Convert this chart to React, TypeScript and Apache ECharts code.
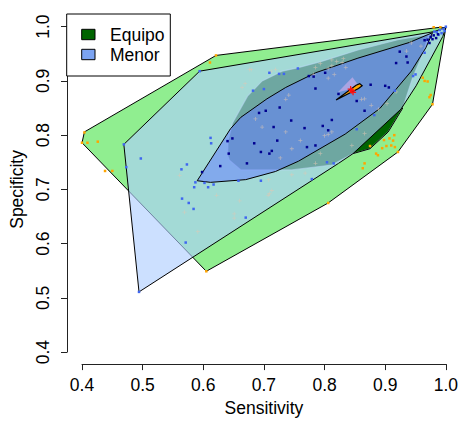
import React, { useEffect, useRef } from "react";
import * as echarts from "echarts";

const FONT = "'Liberation Sans', Arial, Helvetica, sans-serif";

const xTickValues = [0.4, 0.5, 0.6, 0.7, 0.8, 0.9, 1.0];
const yTickValues = [0.4, 0.5, 0.6, 0.7, 0.8, 0.9, 1.0];
const legendNames = ["Equipo", "Menor"];
const legendColors = ["#006400", "#7BA3F2"];

// Equipo: outer hull (light green) and inner region (dark green)
const equipoOuterHull: number[][] = [
  [0.4, 0.786], [0.404, 0.806], [0.621, 0.947], [0.991, 0.999], [1.0, 0.998],
  [0.978, 0.857], [0.921, 0.769], [0.806, 0.675], [0.605, 0.549],
];
const equipoInnerHull: number[][] = [
  [0.640, 0.763], [0.641, 0.79], [0.648, 0.822], [0.673, 0.872], [0.697, 0.9],
  [0.730, 0.918], [0.755, 0.924], [0.795, 0.936], [0.855, 0.957], [0.921, 0.976],
  [0.972, 0.986], [0.962, 0.95], [0.945, 0.905], [0.929, 0.850], [0.905, 0.806],
  [0.875, 0.775], [0.847, 0.766], [0.812, 0.745], [0.746, 0.736], [0.662, 0.736],
  [0.643, 0.754],
];
const equipoInnerEdge: number[][] = [
  [0.847, 0.766], [0.875, 0.775], [0.905, 0.806], [0.929, 0.850],
];

// Menor: outer hull (light blue) and inner hull (cornflower)
const menorOuterHull: number[][] = [
  [0.469, 0.783], [0.594, 0.918], [0.981, 0.991], [1.0, 0.999], [0.995, 0.982],
  [0.951, 0.891], [0.926, 0.848], [0.847, 0.766], [0.823, 0.748], [0.494, 0.511],
];
const menorInnerHull: number[][] = [
  [0.590, 0.716], [0.612, 0.713], [0.670, 0.718], [0.719, 0.733], [0.757, 0.752],
  [0.834, 0.802], [0.891, 0.849], [0.943, 0.918], [0.967, 0.961], [0.978, 0.989],
  [0.940, 0.971], [0.855, 0.942], [0.785, 0.915], [0.736, 0.888], [0.705, 0.867],
  [0.662, 0.833], [0.645, 0.812],
];

// centre estimate
const centreWedge: number[][] = [
  [0.819, 0.865], [0.852, 0.892], [0.858, 0.895], [0.862, 0.891], [0.856, 0.886],
];
const centreHalo: number[][] = [
  [0.822, 0.879], [0.846, 0.907], [0.858, 0.889],
];
const centrePoint: number[][] = [[0.845, 0.882], [0.847, 0.879], [0.843, 0.885]];

const equipoPoints: number[][] = [
  [0.400, 0.786], [0.404, 0.805], [0.409, 0.786], [0.426, 0.788], [0.438, 0.734],
  [0.450, 0.734], [0.621, 0.947], [0.611, 0.934], [0.605, 0.549], [0.806, 0.675],
  [0.978, 0.857], [0.973, 0.870], [0.975, 0.874], [0.965, 0.900], [0.970, 0.899],
  [0.962, 0.906], [0.921, 0.769], [0.910, 0.781], [0.913, 0.790], [0.907, 0.794],
  [0.898, 0.791], [0.902, 0.780], [0.916, 0.778], [0.888, 0.763], [0.885, 0.766],
  [0.866, 0.748], [0.863, 0.739], [0.875, 0.780], [0.915, 0.800], [0.991, 0.999],
  [0.980, 0.999], [0.895, 0.776],
];

const menorPoints: number[][] = [
  [0.469, 0.783], [0.473, 0.741], [0.497, 0.757], [0.494, 0.511], [0.612, 0.795],
  [0.613, 0.785], [0.594, 0.918], [0.564, 0.737], [0.573, 0.746], [0.565, 0.683],
  [0.576, 0.675], [0.584, 0.664], [0.571, 0.602], [0.585, 0.704], [0.587, 0.713],
  [0.602, 0.712], [0.608, 0.704], [0.617, 0.709], [0.670, 0.648], [0.658, 0.716],
  [0.695, 0.716], [0.779, 0.719], [0.804, 0.750], [0.815, 0.748], [0.700, 0.885],
  [0.709, 0.915], [0.725, 0.913], [0.733, 0.913], [0.756, 0.923], [0.682, 0.882],
  [0.853, 0.811], [0.882, 0.837], [0.916, 0.882], [0.946, 0.909], [0.950, 0.912],
  [0.965, 0.952], [0.981, 0.991], [0.985, 0.990], [0.990, 0.994], [1.0, 1.0],
  [0.993, 0.988], [0.996, 0.996], [0.988, 0.985], [0.998, 0.992],
];

const menorCorePoints: number[][] = [
  [0.692, 0.841], [0.703, 0.845], [0.745, 0.827], [0.716, 0.815], [0.767, 0.813],
  [0.722, 0.790], [0.684, 0.785], [0.640, 0.789], [0.648, 0.794], [0.642, 0.766],
  [0.628, 0.743], [0.672, 0.748], [0.695, 0.769], [0.709, 0.766], [0.713, 0.771],
  [0.771, 0.778], [0.785, 0.781], [0.785, 0.886], [0.774, 0.909], [0.782, 0.908],
  [0.801, 0.915], [0.797, 0.817], [0.806, 0.809], [0.812, 0.828], [0.726, 0.851],
  [0.924, 0.954], [0.918, 0.933], [0.935, 0.945], [0.937, 0.934], [0.906, 0.888],
  [0.900, 0.891], [0.876, 0.893], [0.866, 0.845], [0.853, 0.863], [0.823, 0.876],
  [0.970, 0.976], [0.975, 0.981], [0.978, 0.977], [0.965, 0.975], [0.973, 0.970],
  [0.980, 0.984], [0.984, 0.979], [0.987, 0.986], [0.598, 0.732],
];

const pooledPoints: number[][] = [
  [0.676, 0.921], [0.719, 0.921], [0.712, 0.918], [0.812, 0.939], [0.820, 0.936],
  [0.829, 0.934], [0.831, 0.941], [0.812, 0.928], [0.806, 0.923], [0.835, 0.925],
  [0.793, 0.932], [0.785, 0.925], [0.782, 0.912], [0.806, 0.905], [0.816, 0.912],
  [0.736, 0.866], [0.741, 0.874], [0.686, 0.830], [0.697, 0.815], [0.736, 0.806],
  [0.746, 0.775], [0.812, 0.806], [0.806, 0.801], [0.800, 0.799], [0.861, 0.866],
  [0.866, 0.867], [0.877, 0.855], [0.845, 0.781], [0.866, 0.803], [0.918, 0.880],
  [0.935, 0.955], [0.943, 0.970], [0.959, 0.964], [0.785, 0.748], [0.768, 0.730],
  [0.793, 0.766], [0.746, 0.727], [0.708, 0.718], [0.713, 0.698], [0.709, 0.692],
  [0.707, 0.689], [0.561, 0.726], [0.569, 0.658], [0.591, 0.622], [0.622, 0.689],
  [0.660, 0.679], [0.651, 0.655], [0.651, 0.647], [0.679, 0.921], [0.664, 0.888],
  [0.669, 0.895], [0.903, 0.858], [0.889, 0.848], [0.760, 0.790], [0.727, 0.758],
];

function polygonSeries(name: string, pts: number[][], style: any, z: number) {
  return {
    type: "custom",
    name,
    coordinateSystem: "cartesian2d",
    data: pts,
    encode: { x: 0, y: 1 },
    clip: false,
    silent: true,
    z,
    renderItem: (params: any, api: any) => {
      if (params.dataIndex !== 0) return { type: "group", children: [] };
      return {
        type: "polygon",
        shape: { points: pts.map((p) => api.coord(p)) },
        style,
      };
    },
  };
}

function polylineSeries(name: string, pts: number[][], style: any, z: number) {
  return {
    type: "custom",
    name,
    coordinateSystem: "cartesian2d",
    data: pts,
    encode: { x: 0, y: 1 },
    clip: false,
    silent: true,
    z,
    renderItem: (params: any, api: any) => {
      if (params.dataIndex !== 0) return { type: "group", children: [] };
      return {
        type: "polyline",
        shape: { points: pts.map((p) => api.coord(p)) },
        style,
      };
    },
  };
}

function scatterSeries(name: string, pts: number[][], symbol: string, size: number, color: string, z: number) {
  return {
    type: "scatter",
    name,
    data: pts,
    symbol,
    symbolSize: size,
    itemStyle: { color, opacity: 1 },
    silent: true,
    z,
  };
}

const PLUS = "path://M2,0H3V2H5V3H3V5H2V3H0V2H2Z";
const STAR = "path://M2,0H3V2H5V3H3V5H2V3H0V2H2Z";

export default function App() {
  const ref = useRef<HTMLDivElement>(null);
  useEffect(() => {
    if (!ref.current) return;
    const chart = echarts.init(ref.current, undefined, { renderer: "svg" });
    const axisCommon = {
      type: "value",
      min: 0.4,
      max: 1.0,
      interval: 0.1,
      splitLine: { show: false },
      axisLine: { show: true, lineStyle: { color: "#222", width: 1 } },
      axisTick: { show: true, length: 6, lineStyle: { color: "#222", width: 1 } },
      nameLocation: "middle",
      nameTextStyle: { fontSize: 17.5, color: "#000", fontFamily: FONT },
    };
    const legendBox = { x: 66.7, y: 14, w: 103.6, h: 62 };
    const legendGraphics: any[] = [
      {
        type: "rect",
        shape: { x: legendBox.x, y: legendBox.y, width: legendBox.w, height: legendBox.h },
        style: { fill: "#fff", stroke: "#000", lineWidth: 1 },
        z: 100,
      },
    ];
    legendNames.forEach((name, i) => {
      const cy = 34.5 + i * 20;
      legendGraphics.push({
        type: "rect",
        shape: { x: 81.7, y: cy - 5.2, width: 13.3, height: 10.4 },
        style: { fill: legendColors[i], stroke: "#000", lineWidth: 1 },
        z: 101,
      });
      legendGraphics.push({
        type: "text",
        x: 110,
        y: cy,
        style: {
          text: name, fill: "#000", font: `17.5px ${FONT}`,
          textAlign: "left", textVerticalAlign: "middle",
        },
        z: 101,
      });
    });
    chart.setOption({
      animation: false,
      backgroundColor: "#fff",
      grid: { left: 81.7, right: 12.7, top: 26.7, bottom: 66 },
      xAxis: {
        ...axisCommon,
        offset: 12,
        name: "Sensitivity",
        nameGap: 34,
        axisLabel: {
          fontSize: 17.5, color: "#000", fontFamily: FONT, margin: 12,
          formatter: (v: number) => (xTickValues.find((t) => Math.abs(t - v) < 1e-6) ?? v).toFixed(1),
        },
      },
      yAxis: {
        ...axisCommon,
        offset: 15,
        name: "Specificity",
        nameGap: 41,
        axisLabel: {
          fontSize: 17.5, color: "#000", fontFamily: FONT, margin: 15, rotate: 90,
          formatter: (v: number) => (yTickValues.find((t) => Math.abs(t - v) < 1e-6) ?? v).toFixed(1),
        },
      },
      graphic: legendGraphics,
      series: [
        polygonSeries("Equipo", equipoOuterHull, { fill: "#90EE90", stroke: "#000", lineWidth: 1 }, 1),
        polygonSeries("Equipo", equipoInnerHull, { fill: "#006400", stroke: "rgba(200,235,225,0.6)", lineWidth: 1.2 }, 2),
        polylineSeries("Equipo", equipoInnerEdge, { fill: "none", stroke: "#000", lineWidth: 1 }, 2),
        polygonSeries("Menor", menorOuterHull, { fill: "rgba(174,206,255,0.63)", stroke: "#000", lineWidth: 1 }, 3),
        polygonSeries("Menor", menorInnerHull, { fill: "rgba(101,127,255,0.53)", stroke: "#000", lineWidth: 1 }, 4),
        polygonSeries("centre", centreHalo, { fill: "rgba(205,175,235,0.65)" }, 5),
        scatterSeries("pooled", pooledPoints, PLUS, 4, "rgba(225,200,180,0.6)", 6),
        scatterSeries("Equipo", equipoPoints, "rect", 2.5, "#FFA500", 7),
        scatterSeries("Menor", menorPoints, "rect", 2.5, "#3F66F0", 7),
        scatterSeries("Menor", menorCorePoints, "rect", 2.5, "#000090", 7),
        polygonSeries("centre", centreWedge, { fill: "#FFA500", stroke: "#000", lineWidth: 1.2 }, 8),
        scatterSeries("centre", centrePoint, STAR, 6, "#FF1010", 9),
      ],
    });
    return () => chart.dispose();
  }, []);
  return (
    <div
      ref={ref}
      style={{ position: "fixed", left: 0, top: 0, width: 461, height: 422 }}
    />
  );
}
